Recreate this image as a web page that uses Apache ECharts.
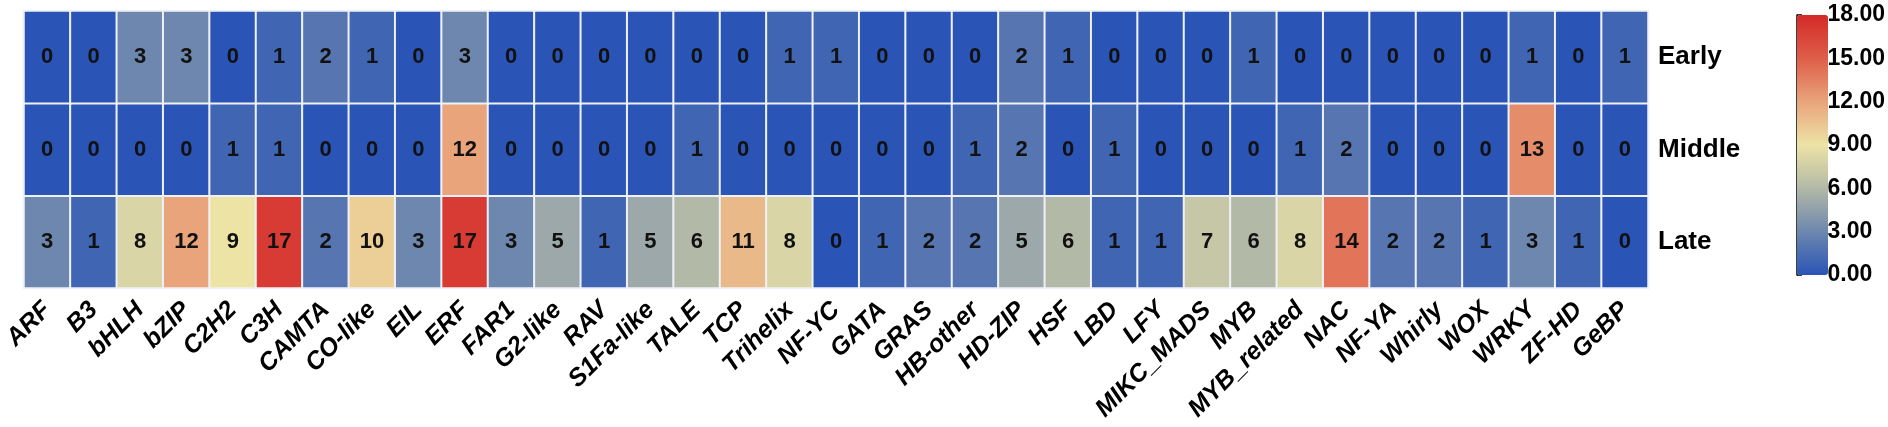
<!DOCTYPE html>
<html>
<head>
<meta charset="utf-8">
<script src="https://cdn.jsdelivr.net/npm/echarts@6/dist/echarts.min.js"></script>
<style>
html,body{margin:0;padding:0;background:#fff;}
#chart{width:1888px;height:427px;}
</style>
</head>
<body>
<div id="chart"></div>
<script>
const categories = ['ARF','B3','bHLH','bZIP','C2H2','C3H','CAMTA','CO-like','EIL','ERF','FAR1','G2-like','RAV','S1Fa-like','TALE','TCP','Trihelix','NF-YC','GATA','GRAS','HB-other','HD-ZIP','HSF','LBD','LFY','MIKC_MADS','MYB','MYB_related','NAC','NF-YA','Whirly','WOX','WRKY','ZF-HD','GeBP'];
const stages = ['Late','Middle','Early'];
const early  = [0,0,3,3,0,1,2,1,0,3,0,0,0,0,0,0,1,1,0,0,0,2,1,0,0,0,1,0,0,0,0,0,1,0,1];
const middle = [0,0,0,0,1,1,0,0,0,12,0,0,0,0,1,0,0,0,0,0,1,2,0,1,0,0,0,1,2,0,0,0,13,0,0];
const late   = [3,1,8,12,9,17,2,10,3,17,3,5,1,5,6,11,8,0,1,2,2,5,6,1,1,7,6,8,14,2,2,1,3,1,0];
const colorTicks = [0,3,6,9,12,15,18];

const rows = {Early: early, Middle: middle, Late: late};
const data = [];
stages.forEach((s, yi) => {
  rows[s].forEach((v, xi) => data.push([xi, yi, v]));
});

const FONT = '"Liberation Sans", Arial, sans-serif';
const chart = echarts.init(document.getElementById('chart'));
chart.setOption({
  animation: false,
  backgroundColor: '#fff',
  grid: [
    {left: 18, top: 11, width: 1630, height: 277},
    {left: 1797, top: 15, width: 31, height: 260}
  ],
  xAxis: [
    {type: 'category', data: categories, gridIndex: 0, position: 'bottom',
     axisLine: {show: false}, axisTick: {show: false}, splitLine: {show: false},
     axisLabel: {interval: 0, rotate: 45, fontFamily: FONT, fontSize: 25, fontWeight: 'bold',
                 fontStyle: 'italic', color: '#000', margin: 18}},
    {type: 'value', gridIndex: 1, show: false, min: 0, max: 1}
  ],
  yAxis: [
    {type: 'category', data: stages, gridIndex: 0, position: 'right',
     axisLine: {show: false}, axisTick: {show: false}, splitLine: {show: false},
     axisLabel: {fontFamily: FONT, fontSize: 26, fontWeight: 'bold', color: '#000', margin: 10}},
    {type: 'value', gridIndex: 1, position: 'right', min: colorTicks[0], max: colorTicks[colorTicks.length-1], interval: 3,
     axisLine: {show: true, lineStyle: {color: '#000', width: 1.5}},
     axisTick: {show: true, inside: false, length: 5, lineStyle: {color: '#000', width: 1.5}},
     splitLine: {show: false},
     axisLabel: {fontFamily: FONT, fontSize: 23, fontWeight: 'bold', color: '#000', margin: 3,
                 formatter: v => v.toFixed(2)}}
  ],
  visualMap: {
    type: 'continuous', min: 0, max: 18, seriesIndex: 0, calculable: false,
    orient: 'vertical', left: 1797, top: 15, itemWidth: 31, itemHeight: 260, padding: 0,
    inRange: {color: ['#2a55b6', '#6d87ae', '#b3b9a7', '#ede3a5', '#e9a47b', '#de5e48', '#d42a28']},
    textStyle: {color: 'transparent'}
  },
  series: [{
    type: 'heatmap', xAxisIndex: 0, yAxisIndex: 0, data: data,
    itemStyle: {borderColor: '#eef2f8', borderWidth: 2},
    label: {show: true, fontFamily: FONT, fontSize: 22, fontWeight: 'bold', color: '#111'},
    emphasis: {disabled: true}
  }]
});
</script>
</body>
</html>
